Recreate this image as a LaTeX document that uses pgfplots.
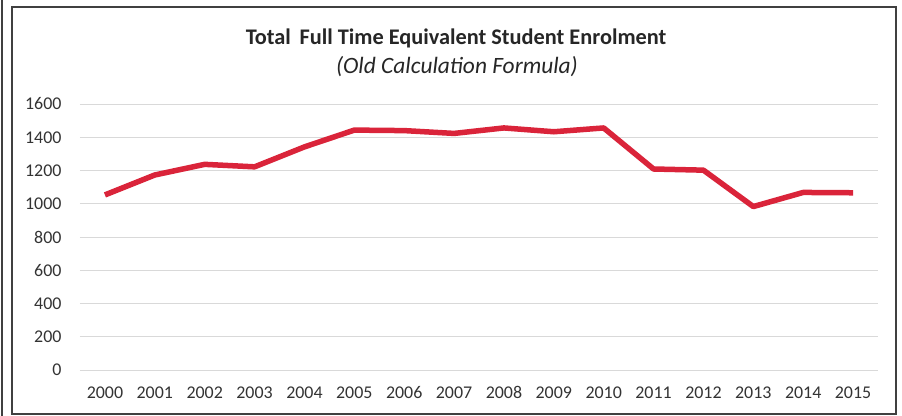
\documentclass[border=0pt]{standalone}
\usepackage{fontspec}
\setmainfont{Carlito}
\usepackage{pgfplots}
\pgfplotsset{compat=1.18}
\definecolor{linered}{RGB}{218,36,58}
\definecolor{gridgray}{RGB}{217,217,217}
\begin{document}
\begin{tikzpicture}[x=1bp,y=1bp]
\useasboundingbox (-80bp,-46bp) rectangle (822bp,370bp);
\begin{axis}[
  at={(0,0)}, anchor=south west,
  scale only axis,
  width=798bp, height=266bp,
  xmin=-0.5, xmax=15.5,
  ymin=0, ymax=1600,
  ytick={0,200,...,1600},
  xtick={0,...,15},
  xticklabels={2000,2001,2002,2003,2004,2005,2006,2007,2008,2009,2010,2011,2012,2013,2014,2015},
  axis line style={draw=none},
  major tick length=0pt,
  ymajorgrids,
  grid style={gridgray, line width=0.8bp},
  tick label style={font=\fontsize{18}{21}\selectfont, text=black!80},
  yticklabel style={xshift=-15bp},
  xticklabel style={yshift=-13bp},
  /pgf/number format/assume math mode=true,
  /pgf/number format/1000 sep={},
  clip=false,
]
\addplot[linered, line width=5.5bp, line join=round] coordinates {
(0,1053) (1,1173) (2,1237) (3,1222) (4,1342) (5,1443) (6,1440) (7,1423)
(8,1456) (9,1433) (10,1456) (11,1209) (12,1202) (13,983) (14,1068) (15,1066)
};
\end{axis}
\node[font=\fontsize{22.4}{26}\selectfont\bfseries, text=black!85] at (376bp,332bp) {Total\, Full Time Equivalent Student Enrolment};
\node[font=\fontsize{23.5}{27}\selectfont\itshape, text=black!85] at (377bp,303bp) {(Old Calculation Formula)};
\draw[black!75, line width=1.5bp] (-68bp,363bp) rectangle (816bp,-44bp);
\draw[black!75, line width=1.5bp] (-78bp,370bp) -- (-78bp,-46bp);
\end{tikzpicture}
\end{document}
